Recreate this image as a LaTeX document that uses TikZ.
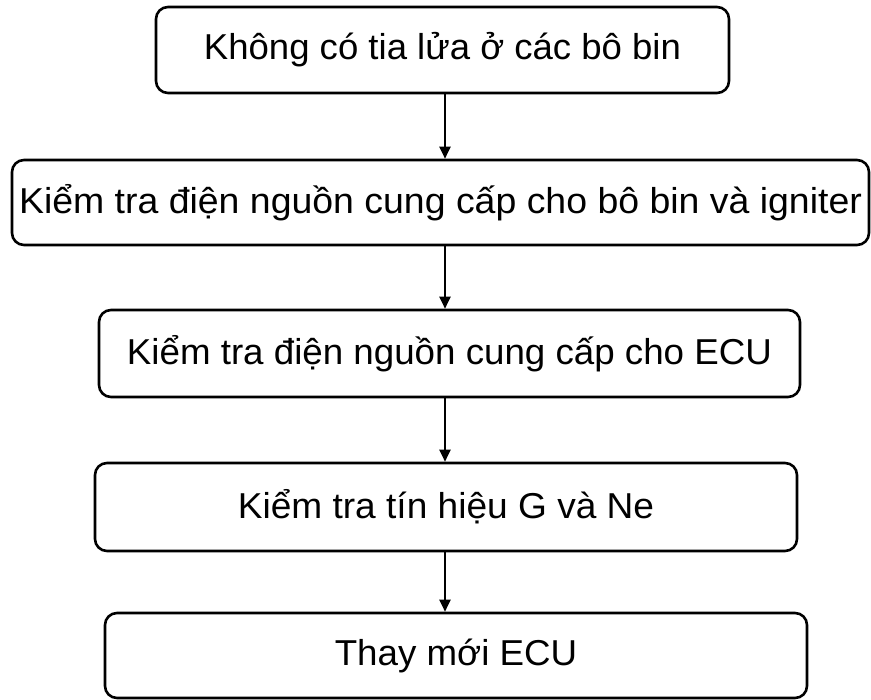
\documentclass[tikz,border=0pt]{standalone}
\usepackage{fontspec}
\setmainfont{Liberation Sans}
\usetikzlibrary{arrows.meta}
\newcommand{\hstretch}[2]{\scalebox{#1}[1]{#2}}
\begin{document}
\begin{tikzpicture}[x=1pt,y=-1pt,
  flowbox/.style={draw=black, line width=2.6pt, rounded corners=12pt, inner sep=0pt,
    font=\fontsize{36}{40}\selectfont, align=center},
  arr/.style={line width=2.2pt, -{Triangle[length=12pt,width=11pt]}}]
\useasboundingbox (0,0) rectangle (871,700);
\node[flowbox, minimum width=573pt, minimum height=86pt] (b1) at (442.5,50) {\hstretch{1.015}{Không có tia lửa ở các bô bin}};
\node[flowbox, minimum width=857pt, minimum height=85pt] (b2) at (440.5,202.5) {\hstretch{1.04}{Kiểm tra điện nguồn cung cấp cho bô bin và igniter}};
\node[flowbox, minimum width=701pt, minimum height=87pt] (b3) at (449.5,353.5) {\hstretch{1.02}{Kiểm tra điện nguồn cung cấp cho ECU}};
\node[flowbox, minimum width=702pt, minimum height=88pt] (b4) at (446,507) {\hstretch{1.03}{Kiểm tra tín hiệu G và Ne}};
\node[flowbox, minimum width=702pt, minimum height=85pt] (b5) at (456,655.5) {\hstretch{1.02}{Thay mới ECU}};
\coordinate (ax) at (445,0);
\draw[arr] (b1.south -| ax) -- (b2.north -| ax);
\draw[arr] (b2.south -| ax) -- (b3.north -| ax);
\draw[arr] (b3.south -| ax) -- (b4.north -| ax);
\draw[arr] (b4.south -| ax) -- (b5.north -| ax);
\end{tikzpicture}
\end{document}
